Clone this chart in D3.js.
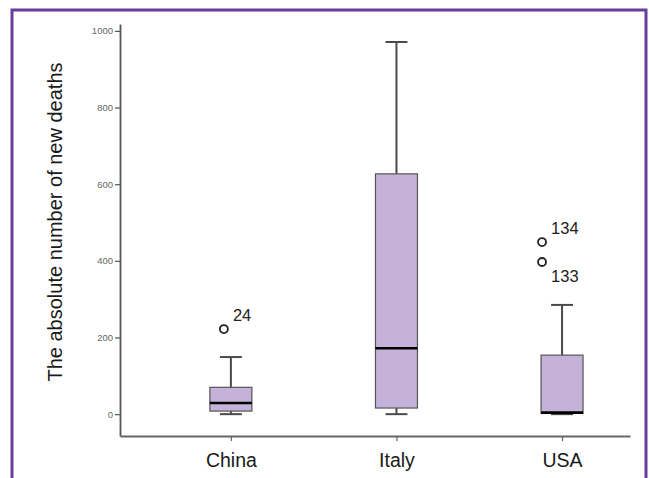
<!DOCTYPE html>
<html>
<head>
<meta charset="utf-8">
<script src="https://cdn.jsdelivr.net/npm/d3@7"></script>
<style>
body { margin: 0; background: #fff; }
text { font-family: "Liberation Sans", Arial, sans-serif; }
</style>
</head>
<body>
<script>
// data
var countries = ["China", "Italy", "USA"];
var whiskerLow = [0, 0, 0];
var q1 = [8, 16, 2];
var medians = [29, 172, 4];
var q3 = [70, 627, 154];
var whiskerHigh = [149, 971, 285];

var outlierCountry = ["China", "USA", "USA"];
var outlierValue = [222, 449, 397];
var outlierCase = ["24", "134", "133"];

var yTicks = [0, 200, 400, 600, 800, 1000];

var width = 649, height = 478;
var boxWidth = 42, capWidth = 22;
var outlierDx = {China: -7, Italy: 0, USA: -20};

var svg = d3.select("body").append("svg")
    .attr("width", width)
    .attr("height", height);

svg.append("rect")
    .attr("width", width)
    .attr("height", height)
    .attr("fill", "#fff");

// purple frame, open at the bottom
svg.append("rect")
    .attr("x", 12)
    .attr("y", 10)
    .attr("width", 634)
    .attr("height", 520)
    .attr("fill", "none")
    .attr("stroke", "#6a3d9c")
    .attr("stroke-width", 3);

var x = d3.scalePoint()
    .domain(countries)
    .range([120, 630])
    .padding(0.54)
    .align(0.62);

var y = d3.scaleLinear()
    .domain([-57, 1018])
    .range([436, 24]);

// y axis
var yAxis = svg.append("g")
    .attr("transform", "translate(120,0)")
    .call(d3.axisLeft(y).tickValues(yTicks).tickFormat(d3.format("d"))
        .tickSize(5).tickSizeOuter(0).tickPadding(2));
yAxis.select(".domain").attr("stroke", "#555").attr("stroke-width", 1.8);
yAxis.selectAll(".tick line").attr("stroke", "#555").attr("stroke-width", 1.2);
yAxis.selectAll(".tick text")
    .attr("fill", "#666")
    .style("font-size", "9.5px");

// x axis
var xAxis = svg.append("g")
    .attr("transform", "translate(0,436)")
    .call(d3.axisBottom(x).tickSize(5).tickSizeOuter(0).tickPadding(12));
xAxis.select(".domain").attr("stroke", "#666").attr("stroke-width", 1.8);
xAxis.selectAll(".tick line").attr("stroke", "#666").attr("stroke-width", 1.2);
xAxis.selectAll(".tick text")
    .attr("fill", "#1a1a1a")
    .style("font-size", "19.5px");

// y axis title
svg.append("text")
    .attr("transform", "translate(62,222) rotate(-90)")
    .attr("text-anchor", "middle")
    .attr("fill", "#1a1a1a")
    .style("font-size", "20px")
    .text("The absolute number of new deaths");

var boxes = countries.map(function(c, i) {
    return {country: c, lo: whiskerLow[i], q1: q1[i], med: medians[i], q3: q3[i], hi: whiskerHigh[i]};
});

var g = svg.selectAll(".box")
    .data(boxes)
    .enter().append("g")
    .attr("class", "box")
    .attr("transform", function(d) { return "translate(" + x(d.country) + ",0)"; });

// whiskers
g.append("line")
    .attr("y1", function(d) { return y(d.q3); })
    .attr("y2", function(d) { return y(d.hi); })
    .attr("stroke", "#4a4a4a").attr("stroke-width", 2);
g.append("line")
    .attr("y1", function(d) { return y(d.q1); })
    .attr("y2", function(d) { return y(d.lo); })
    .attr("stroke", "#4a4a4a").attr("stroke-width", 2);
g.selectAll(".cap")
    .data(function(d) { return [d.lo, d.hi]; })
    .enter().append("line")
    .attr("class", "cap")
    .attr("x1", -capWidth / 2).attr("x2", capWidth / 2)
    .attr("y1", function(v) { return y(v); })
    .attr("y2", function(v) { return y(v); })
    .attr("stroke", "#4a4a4a").attr("stroke-width", 2);

// boxes
g.append("rect")
    .attr("x", -boxWidth / 2)
    .attr("width", boxWidth)
    .attr("y", function(d) { return y(d.q3); })
    .attr("height", function(d) { return y(d.q1) - y(d.q3); })
    .attr("fill", "#c4b2da")
    .attr("stroke", "#555")
    .attr("stroke-width", 1.2);

// medians
g.append("line")
    .attr("x1", -boxWidth / 2).attr("x2", boxWidth / 2)
    .attr("y1", function(d) { return y(d.med); })
    .attr("y2", function(d) { return y(d.med); })
    .attr("stroke", "#000").attr("stroke-width", 2.6);

// outliers
var outliers = outlierValue.map(function(v, i) {
    var below = outlierValue.some(function(w, j) {
        return j !== i && outlierCountry[j] === outlierCountry[i] && w > v && w - v < 100;
    });
    return {country: outlierCountry[i], value: v, label: outlierCase[i], below: below};
});

svg.selectAll(".outlier")
    .data(outliers)
    .enter().append("circle")
    .attr("class", "outlier")
    .attr("cx", function(d) { return x(d.country) + outlierDx[d.country]; })
    .attr("cy", function(d) { return y(d.value); })
    .attr("r", 4)
    .attr("fill", "none")
    .attr("stroke", "#222")
    .attr("stroke-width", 1.8);

svg.selectAll(".outlier-label")
    .data(outliers)
    .enter().append("text")
    .attr("class", "outlier-label")
    .attr("x", function(d) { return x(d.country) + outlierDx[d.country] + 9; })
    .attr("y", function(d) { return y(d.value) + (d.below ? 20 : -8); })
    .attr("fill", "#222")
    .style("font-size", "16.5px")
    .text(function(d) { return d.label; });
</script>
</body>
</html>
